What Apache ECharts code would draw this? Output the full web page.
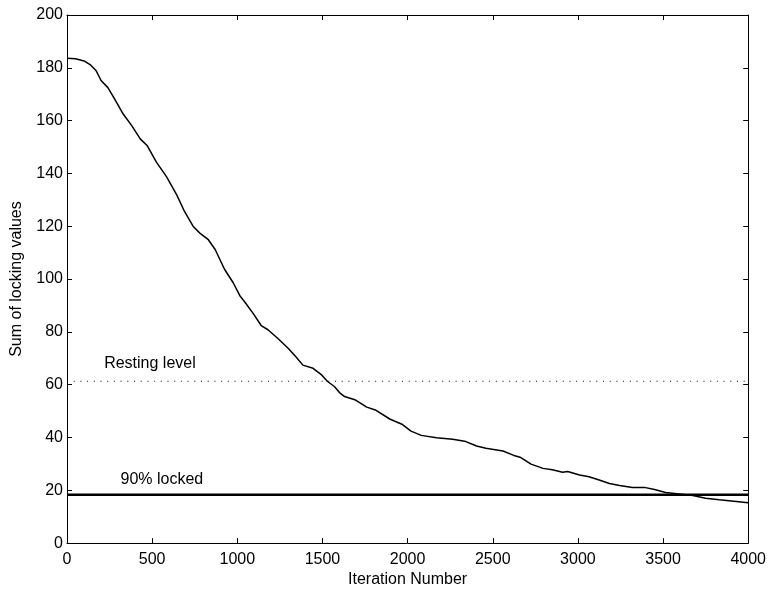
<!DOCTYPE html>
<html>
<head>
<meta charset="utf-8">
<script src="https://cdn.jsdelivr.net/npm/echarts@6/dist/echarts.min.js"></script>
<style>html,body{margin:0;padding:0;background:#fff;}#c{width:769px;height:593px;}</style>
</head>
<body>
<div id="c"></div>
<script>
const iterations = [0,50,100,140,170,200,240,275,330,380,430,470,525,585,645,690,740,780,830,870,925,975,1015,1045,1095,1140,1180,1240,1300,1345,1385,1445,1495,1530,1570,1600,1630,1690,1760,1815,1895,1970,2020,2080,2170,2265,2335,2405,2460,2560,2620,2665,2725,2795,2850,2910,2940,3010,3065,3125,3185,3245,3320,3390,3450,3515,3595,3675,3750,3830,3930,4000];
const lockingSum = [183.6,183.4,182.6,181.0,179.0,175.2,172.5,168.7,162.5,158.1,153.1,150.6,144.3,138.7,131.8,125.6,120.0,117.4,114.9,111.2,103.7,98.7,93.7,91.2,86.8,82.4,80.8,77.4,73.7,70.5,67.4,66.2,63.7,61.2,59.3,57.0,55.5,54.3,51.5,50.3,47.0,44.9,42.4,40.8,39.9,39.3,38.6,36.8,35.9,34.9,33.3,32.4,29.9,28.3,27.8,26.8,27.1,25.8,25.1,23.9,22.6,21.8,21.1,21.1,20.3,19.2,18.6,18.0,17.0,16.4,15.8,15.3];
const restingLevel = 61.3;
const lockedLevel = 18.3;
const xTicks = [0,500,1000,1500,2000,2500,3000,3500,4000];
const yTicks = [0,20,40,60,80,100,120,140,160,180,200];
const annotations = [
  {name: 'Resting level', x: 487, y: 65},
  {name: '90% locked', x: 557, y: 21}
];

const font = 'Liberation Sans, Arial, Helvetica, sans-serif';
const chart = echarts.init(document.getElementById('c'), null, {renderer: 'canvas'});
const axisCommon = {
  axisLine: {show: true, onZero: false, lineStyle: {color: '#000', width: 1}},
  axisTick: {show: true, inside: true, length: 5, lineStyle: {color: '#000', width: 1}},
  splitLine: {show: false}
};
chart.setOption({
  animation: false,
  backgroundColor: '#fff',
  grid: {left: 67, right: 20, top: 15, bottom: 45, containLabel: false},
  xAxis: [
    Object.assign({
      type: 'value', min: xTicks[0], max: xTicks[xTicks.length-1], interval: 500,
      name: 'Iteration Number', nameLocation: 'middle', nameGap: 24,
      nameTextStyle: {fontFamily: font, fontSize: 16, color: '#000'},
      axisLabel: {fontFamily: font, fontSize: 16, color: '#000', margin: 8, formatter: v => String(v)}
    }, axisCommon),
    Object.assign({
      type: 'value', min: xTicks[0], max: xTicks[xTicks.length-1], interval: 500, position: 'top',
      axisLabel: {show: false}
    }, axisCommon)
  ],
  yAxis: [
    Object.assign({
      type: 'value', min: yTicks[0], max: yTicks[yTicks.length-1], interval: 20,
      name: 'Sum of locking values', nameLocation: 'middle', nameGap: 42,
      nameTextStyle: {fontFamily: font, fontSize: 16, color: '#000'},
      axisLabel: {fontFamily: font, fontSize: 16, color: '#000', margin: 4, formatter: v => String(v)}
    }, axisCommon),
    Object.assign({
      type: 'value', min: yTicks[0], max: yTicks[yTicks.length-1], interval: 20, position: 'right',
      axisLabel: {show: false}
    }, axisCommon)
  ],
  series: [
    {
      type: 'line', xAxisIndex: 0, yAxisIndex: 0, symbol: 'none',
      data: iterations.map((x, i) => [x, lockingSum[i]]),
      lineStyle: {color: '#000', width: 1.5}
    },
    {
      type: 'line', symbol: 'none',
      data: [[xTicks[0], restingLevel], [xTicks[xTicks.length-1], restingLevel]],
      lineStyle: {color: '#000', width: 1, type: [1, 5.7]}
    },
    {
      type: 'line', symbol: 'none',
      data: [[xTicks[0], lockedLevel], [xTicks[xTicks.length-1], lockedLevel]],
      lineStyle: {color: '#000', width: 2.5}
    },
    {
      type: 'scatter', symbolSize: 0.01,
      itemStyle: {color: '#fff', opacity: 1},
      data: annotations.map(a => ({name: a.name, value: [a.x, a.y]})),
      label: {show: true, position: 'top', distance: 0, formatter: p => p.name,
        fontFamily: font, fontSize: 16, color: '#000', opacity: 1, textBorderWidth: 0}
    }
  ]
});
</script>
</body>
</html>
